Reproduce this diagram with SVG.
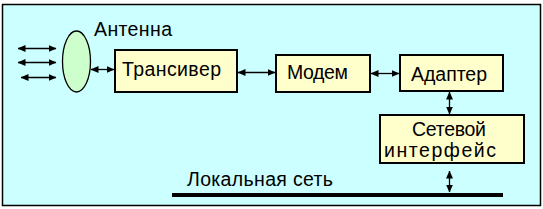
<svg xmlns="http://www.w3.org/2000/svg" width="543" height="209" viewBox="0 0 543 209">
<style>
.box{fill:#FFFFCC;stroke:#000;stroke-width:2}
.t{font-family:"Liberation Sans",Arial,sans-serif;font-size:19.5px;fill:#000}
.c{stroke:#000;stroke-width:1.3;fill:none;marker-start:url(#ah);marker-end:url(#ah)}
</style>
<defs>
<marker id="ah" viewBox="0 0 8 8" refX="7.5" refY="4" markerWidth="8" markerHeight="8" markerUnits="userSpaceOnUse" orient="auto-start-reverse">
<path d="M0,0.5 L8,4 L0,7.5 Z" fill="#000"/>
</marker>
</defs>
<rect x="2.5" y="4.5" width="538" height="201" fill="#CCFFFF" stroke="#000" stroke-width="1.5"/>
<g id="antenna">
<ellipse cx="76.5" cy="61.5" rx="14" ry="30.5" fill="#CCFFCC" stroke="#000" stroke-width="1.3"/>
<text class="t" x="94" y="36" textLength="78" lengthAdjust="spacing">Антенна</text>
</g>
<g id="transceiver">
<rect class="box" x="115" y="50" width="122" height="42"/>
<text class="t" x="122" y="76" textLength="99" lengthAdjust="spacing">Трансивер</text>
</g>
<g id="modem">
<rect class="box" x="276" y="55" width="94" height="37"/>
<text class="t" x="287" y="78.5" textLength="61" lengthAdjust="spacing">Модем</text>
</g>
<g id="adapter">
<rect class="box" x="400" y="55" width="103" height="36"/>
<text class="t" x="411" y="80.5" textLength="76" lengthAdjust="spacing">Адаптер</text>
</g>
<g id="netif">
<rect class="box" x="380" y="115" width="144" height="48"/>
<text class="t" x="412" y="136" textLength="74" lengthAdjust="spacing">Сетевой</text>
<text class="t" x="384" y="156.5" textLength="112" lengthAdjust="spacing">интерфейс</text>
</g>
<g id="lan">
<line x1="172" y1="195" x2="503" y2="195" stroke="#000" stroke-width="4"/>
<text class="t" x="187" y="186" textLength="146" lengthAdjust="spacing">Локальная сеть</text>
</g>
<g id="connectors">
<line class="c" x1="18" y1="48.5" x2="56" y2="48.5"/>
<line class="c" x1="18" y1="62.5" x2="56" y2="62.5"/>
<line class="c" x1="21" y1="77.5" x2="56" y2="77.5"/>
<line class="c" x1="91" y1="69.5" x2="114" y2="69.5"/>
<line class="c" x1="238" y1="72.5" x2="275" y2="72.5"/>
<line class="c" x1="371" y1="73.5" x2="399" y2="73.5"/>
<line class="c" x1="449.5" y1="92" x2="449.5" y2="114"/>
<line class="c" x1="449.5" y1="171" x2="449.5" y2="192"/>
</g>
</svg>
